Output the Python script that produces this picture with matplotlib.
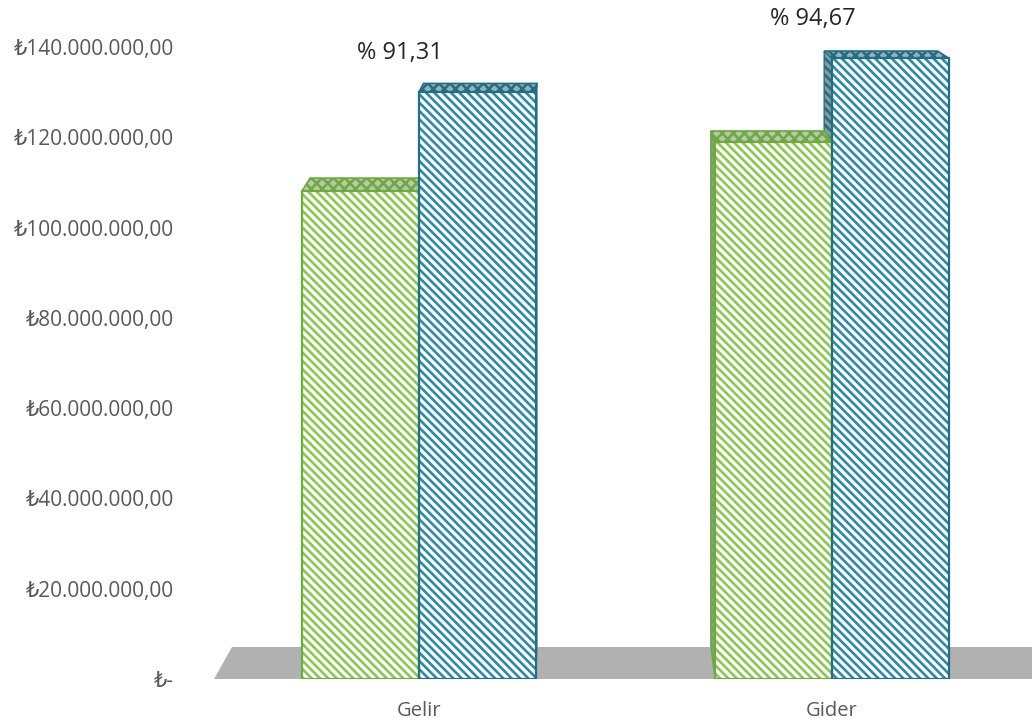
import matplotlib
matplotlib.use('Agg')
import matplotlib.pyplot as plt
from matplotlib.patches import Polygon
import numpy as np

plt.rcParams['font.family'] = ['Open Sans', 'DejaVu Sans']
plt.rcParams['hatch.linewidth'] = 1.9

# data
categories = ['Gelir', 'Gider']
seri_yesil = [108.1e6, 119.0e6]
seri_mavi = [130.0e6, 137.5e6]
oran_etiket = ['% 91,31', '% 94,67']
ytick_vals = [0, 20e6, 40e6, 60e6, 80e6, 100e6, 120e6, 140e6]
ytick_labels = ['₺-', '₺20.000.000,00', '₺40.000.000,00', '₺60.000.000,00',
                '₺80.000.000,00', '₺100.000.000,00', '₺120.000.000,00',
                '₺140.000.000,00']

# styles
green_hatch = '#8CC751'
green_edge = '#6DAA3F'
blue_hatch = '#2E8AA5'
blue_edge = '#236E84'
W, H = 1032, 724
bar_w = 0.283

fig = plt.figure(figsize=(W / 100, H / 100), dpi=100)
ax = fig.add_axes([214 / W, 45 / H, 1 - 214 / W, (679 - 47) / H])
ax.set_xlim(-0.496, 1.484)
ax.set_ylim(0, 140e6)
for s in ax.spines.values():
    s.set_visible(False)

x = np.arange(len(categories))


def back(xd, yd):
    # fake perspective: push a front corner towards the back
    px, py = ax.transData.transform((xd, yd))
    dx = 0.03 * (570 - px)
    dy = 0.043 * (H - py + 110)
    return ax.transData.inverted().transform((px + dx, py + dy))


# floor
fl, fr = ax.get_xlim()
floor_pts = [(fl, 0), (fr + 0.1, 0)]
for xd in (fr + 0.1, fl):
    px, py = ax.transData.transform((xd, 0))
    px += 18 if xd == fl else -28
    floor_pts.append(ax.transData.inverted().transform((px, py + 32)))
ax.add_patch(Polygon(floor_pts, closed=True, facecolor='#B1B1B1',
                     edgecolor='none', clip_on=False, zorder=0))


def depth_faces(x0, x1, val, edge_c, top_c, side):
    fl_ = (x0, val)
    fr_ = (x1, val)
    bl = back(*fl_)
    br = back(*fr_)
    top = Polygon([fl_, fr_, br, bl], closed=True, facecolor=top_c,
                  edgecolor=edge_c, hatch='xxx', lw=1.2, zorder=2)
    ax.add_patch(top)
    if side == 'right':
        bb = back(x1, 0)
        pts = [fr_, (x1, 0), bb, br]
    else:
        bb = back(x0, 0)
        pts = [fl_, (x0, 0), bb, bl]
    ax.add_patch(Polygon(pts, closed=True, facecolor='#8A9A9F',
                         edgecolor=edge_c, hatch='\\\\\\\\', lw=1.0, zorder=1.5))


# depth faces, back to front
for i in range(len(categories)):
    side = 'right' if i == 0 else 'left'
    depth_faces(x[i], x[i] + bar_w, seri_mavi[i], blue_edge, '#9AAFB5', side)
    depth_faces(x[i] - bar_w, x[i], seri_yesil[i], green_edge, '#BAC6AE', side)

# front faces
for vals, hc, ec, off in [(seri_yesil, green_hatch, green_edge, -bar_w / 2),
                          (seri_mavi, blue_hatch, blue_edge, bar_w / 2)]:
    ax.bar(x + off, vals, width=bar_w, color='white', edgecolor=hc,
           hatch='\\\\\\\\', linewidth=0, zorder=3)
    ax.bar(x + off, vals, width=bar_w, fill=False, edgecolor=ec,
           linewidth=1.6, zorder=4)

# percentage labels
for i, lab in enumerate(oran_etiket):
    ax.annotate(lab, (x[i], seri_mavi[i]), xytext=(-14, 28),
                textcoords='offset points', ha='center', va='center',
                fontsize=17, color='#262626', annotation_clip=False)

ax.set_yticks(ytick_vals)
ax.set_yticklabels(ytick_labels)
ax.set_xticks(x)
ax.set_xticklabels(categories)
ax.tick_params(axis='y', length=0, pad=29, labelsize=15, labelcolor='#595959')
ax.tick_params(axis='x', length=0, pad=16, labelsize=14.5, labelcolor='#595959')

fig.savefig('out.png', dpi=100)
